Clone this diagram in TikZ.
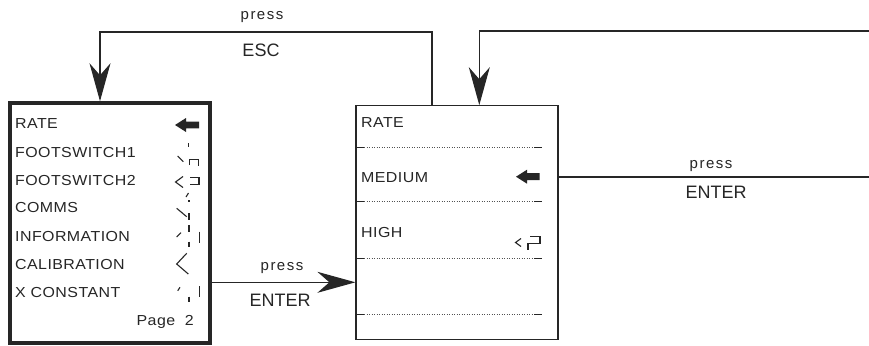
\documentclass[tikz,border=0pt]{standalone}
\usepackage{fontspec}
\setmainfont{Liberation Sans}
\newfontfamily\bxf[FakeStretch=1.1,LetterSpace=3]{Liberation Sans}
\newfontfamily\prf[LetterSpace=10]{Liberation Sans}
\usetikzlibrary{arrows.meta}
\definecolor{ink}{gray}{0.15}
\begin{document}
\begin{tikzpicture}[x=1pt,y=-1pt,
  txt/.style={font=\bxf\fontsize{14.5}{16}\selectfont, text=ink, anchor=west, inner sep=0pt},
  presslbl/.style={font=\prf\fontsize{15}{17}\selectfont, text=ink, inner sep=0pt},
  keylbl/.style={font=\fontsize{18}{20}\selectfont, text=ink, inner sep=0pt},
  conn/.style={draw=ink, line width=1.2pt},
  arr/.style={-{Stealth[length=38pt,width=21pt,inset=12pt]}},
  icon/.style={draw=ink, line width=1.1pt},
  sep/.style={draw=ink, line width=1pt},
  dots/.style={draw=ink!80, line width=1pt, dash pattern=on 1.2pt off 1.3pt}]
\useasboundingbox (0,0) rectangle (869,345);
\fill[white] (0,0) rectangle (869,345);
% boxes
\node[draw=ink, line width=3.5pt, minimum width=200pt, minimum height=240pt, inner sep=0pt] (menu) at (110,223) {};
\node[draw=ink, line width=1.2pt, minimum width=202pt, minimum height=233.5pt, inner sep=0pt] (rate) at (457,222.5) {};
% left menu texts
\node[txt] (m1) at (15,123.3) {RATE};
\node[txt] (m2) at (15,152.7) {FOOTSWITCH1};
\node[txt] (m3) at (15,180.7) {FOOTSWITCH2};
\node[txt] (m4) at (15,208) {COMMS};
\node[txt] (m5) at (15,236.7) {INFORMATION};
\node[txt] (m6) at (15,264.3) {CALIBRATION};
\node[txt] (m7) at (15,292.3) {X CONSTANT};
\node[txt, anchor=east] (pg) at (194,322) {Page\ \ 2};
% middle box texts
\node[txt] (r1) at (361,122.3) {RATE};
\node[txt] (r2) at (361,177.7) {MEDIUM};
\node[txt] (r3) at (361,232.7) {HIGH};
% separators in middle box
\foreach \yy in {147,201,258,314}{
  \draw[sep] (357,\yy) -- (364,\yy);
  \draw[dots] (364,\yy) -- (534,\yy);
  \draw[sep] (534,\yy) -- (542,\yy);
}
% icons left box
\fill[ink] (175,125) -- (186,118) -- (186,121.7) -- (199,121.7) -- (199,128.3) -- (186,128.3) -- (186,132) -- cycle;
\draw[icon] (188.5,143) -- (188.5,147);
\draw[icon] (177.7,156) -- (183.3,161.7);
\draw[icon] (189.5,165) -- (189.5,159.5) -- (198.5,159.5) -- (198.5,166);
\draw[icon] (183,176.5) -- (175.5,182) -- (183,187.5);
\draw[icon] (190,177.7) -- (199,177.7) -- (199,184.3) -- (190,184.3);
\draw[icon] (186,197) -- (188.5,193);
\draw[icon] (189,200) -- (189,202);
\draw[icon] (176.7,208.3) -- (186.7,216.7);
\draw[icon] (189,213) -- (189,220);
\draw[icon] (189,225) -- (189,231.7);
\draw[icon] (176.7,237) -- (181,232.7);
\draw[icon] (189,241.7) -- (189,247.3);
\draw[icon] (199.3,231.7) -- (199.3,242.7);
\draw[icon] (186.7,253.3) -- (176.7,264) -- (188.3,274);
\draw[icon] (177.7,290.7) -- (180,287.3);
\draw[icon] (189,296.7) -- (189,301.7);
\draw[icon] (199.3,286) -- (199.3,297.3);
% icons middle box
\fill[ink] (516,176.7) -- (527,169.7) -- (527,173.2) -- (539.5,173.2) -- (539.5,180.2) -- (527,180.2) -- (527,183.7) -- cycle;
\draw[icon] (521,238.5) -- (515.5,242.5) -- (521,246.5);
\draw[icon] (530,236.7) -- (540,236.7) -- (540,243.3) -- (528,243.3) -- (528,250);
% connectors
\coordinate (esct) at (432,32);
\coordinate (escl) at (100,32);
\draw[conn, arr] (rate.north -| esct) -- (esct) -- (escl) -- (escl |- menu.north);
\node[presslbl] (p1) at (262,16.7) {press};
\node[keylbl] (k1) at (261,50.7) {ESC};
\coordinate (loopr) at (870,31);
\coordinate (loopd) at (479.3,31);
\draw[conn, arr] (loopr) -- (loopd) -- (loopd |- rate.north);
\coordinate (entr) at (870,177);
\draw[conn] (rate.east |- entr) -- (entr);
\node[presslbl] (p2) at (711,166) {press};
\node[keylbl] (k2) at (716,192) {ENTER};
\coordinate (entb) at (0,282.3);
\draw[conn, arr] (menu.east |- entb) -- (rate.west |- entb);
\node[presslbl] (p3) at (282,268) {press};
\node[keylbl] (k3) at (280,300) {ENTER};
\end{tikzpicture}
\end{document}
